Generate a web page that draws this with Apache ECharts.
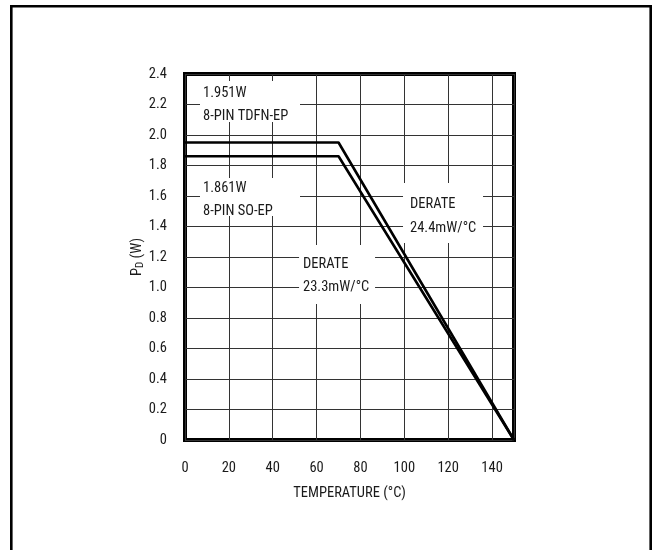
<!DOCTYPE html>
<html>
<head>
<meta charset="utf-8">
<script src="https://cdn.jsdelivr.net/npm/echarts@6/dist/echarts.min.js"></script>
<style>
html,body{margin:0;padding:0;background:#fff;}
#c{width:654px;height:550px;}
</style>
</head>
<body>
<div id="c"></div>
<script>
// ---- data ----
const temperatures = [0, 70, 150];
const tdfnPower = [1.951, 1.951, 0];
const soepPower = [1.861, 1.861, 0];
const xTicks = [0, 20, 40, 60, 80, 100, 120, 140];
const yTicks = ['0', '0.2', '0.4', '0.6', '0.8', '1.0', '1.2', '1.4', '1.6', '1.8', '2.0', '2.2', '2.4'];

// annotation texts and anchors (data coords of box top-left)
const noteTexts = [
  ['1.951W', '8-PIN TDFN-EP'],
  ['1.861W', '8-PIN SO-EP'],
  ['DERATE', '24.4mW/°C'],
  ['DERATE', '23.3mW/°C']
];
const noteAnchors = [[6.84, 2.354], [6.84, 1.718], [99.4, 1.685], [52.0, 1.279]];
const noteBoxes = [
  {w: 100, h: 41, tx: 3, ty: [12, 35]},
  {w: 100, h: 38, tx: 3, ty: [10, 33]},
  {w: 80, h: 60, tx: 7, ty: [21, 45]},
  {w: 76, h: 59, tx: 4, ty: [19, 42]}
];

const FONT = "'Roboto Condensed', sans-serif";
const FS = 14.5;
const TXT = '#1a1a1a';

const chart = echarts.init(document.getElementById('c'), null, {renderer: 'canvas'});

function pairs(xs, ys) { return xs.map((x, i) => [x, ys[i]]); }

chart.setOption({
  animation: false,
  backgroundColor: '#fff',
  grid: {left: 185, right: 140, top: 74, bottom: 110, show: true, borderColor: '#000', borderWidth: 4, backgroundColor: 'transparent'},
  xAxis: {
    type: 'value', min: 0, max: 150, interval: 20,
    axisLine: {show: false}, axisTick: {show: false},
    splitLine: {show: true, lineStyle: {color: '#333', width: 1}},
    axisLabel: {margin: 21, color: TXT, fontFamily: FONT, fontSize: FS, showMaxLabel: false,
      formatter: v => xTicks.indexOf(v) >= 0 ? String(v) : ''},
    name: 'TEMPERATURE (°C)', nameLocation: 'middle', nameGap: 46,
    nameTextStyle: {color: TXT, fontFamily: FONT, fontSize: FS}
  },
  yAxis: {
    type: 'value', min: 0, max: 2.4, interval: 0.2,
    axisLine: {show: false}, axisTick: {show: false},
    splitLine: {show: true, lineStyle: {color: '#333', width: 1}},
    axisLabel: {margin: 18, color: TXT, fontFamily: FONT, fontSize: FS,
      formatter: v => yTicks[Math.round(v / 0.2)]},
    name: '{m|P}{s|D}{m| (W)}', nameLocation: 'middle', nameGap: 39, nameMoveOverlap: false,
    nameTextStyle: {color: TXT, fontFamily: FONT, fontSize: FS,
      rich: {m: {fontFamily: FONT, fontSize: FS, color: TXT}, s: {fontFamily: FONT, fontSize: 11, color: TXT, padding: [7, 0, 0, 0]}}}
  },
  series: [
    {type: 'line', data: pairs(temperatures, tdfnPower), symbol: 'none', lineStyle: {color: '#000', width: 2.6}, z: 5},
    {type: 'line', data: pairs(temperatures, soepPower), symbol: 'none', lineStyle: {color: '#000', width: 2.6}, z: 5}
  ]
});

const gfx = [{
  type: 'rect', silent: true, z: 0,
  shape: {x: 11.3, y: 6.2, width: 639.4, height: 600},
  style: {fill: 'none', stroke: '#000', lineWidth: 2.6}
}];
noteTexts.forEach((lines, i) => {
  const p = chart.convertToPixel({gridIndex: 0}, noteAnchors[i]);
  const b = noteBoxes[i];
  const children = [{type: 'rect', shape: {x: 0, y: 0, width: b.w, height: b.h}, style: {fill: '#fff'}}];
  lines.forEach((t, j) => children.push({
    type: 'text', style: {text: t, x: b.tx, y: b.ty[j], fill: TXT, font: FS + 'px ' + FONT, verticalAlign: 'middle', align: 'left'}
  }));
  gfx.push({type: 'group', x: p[0], y: p[1], z: 3, silent: true, children});
});
chart.setOption({graphic: gfx});
</script>
</body>
</html>
